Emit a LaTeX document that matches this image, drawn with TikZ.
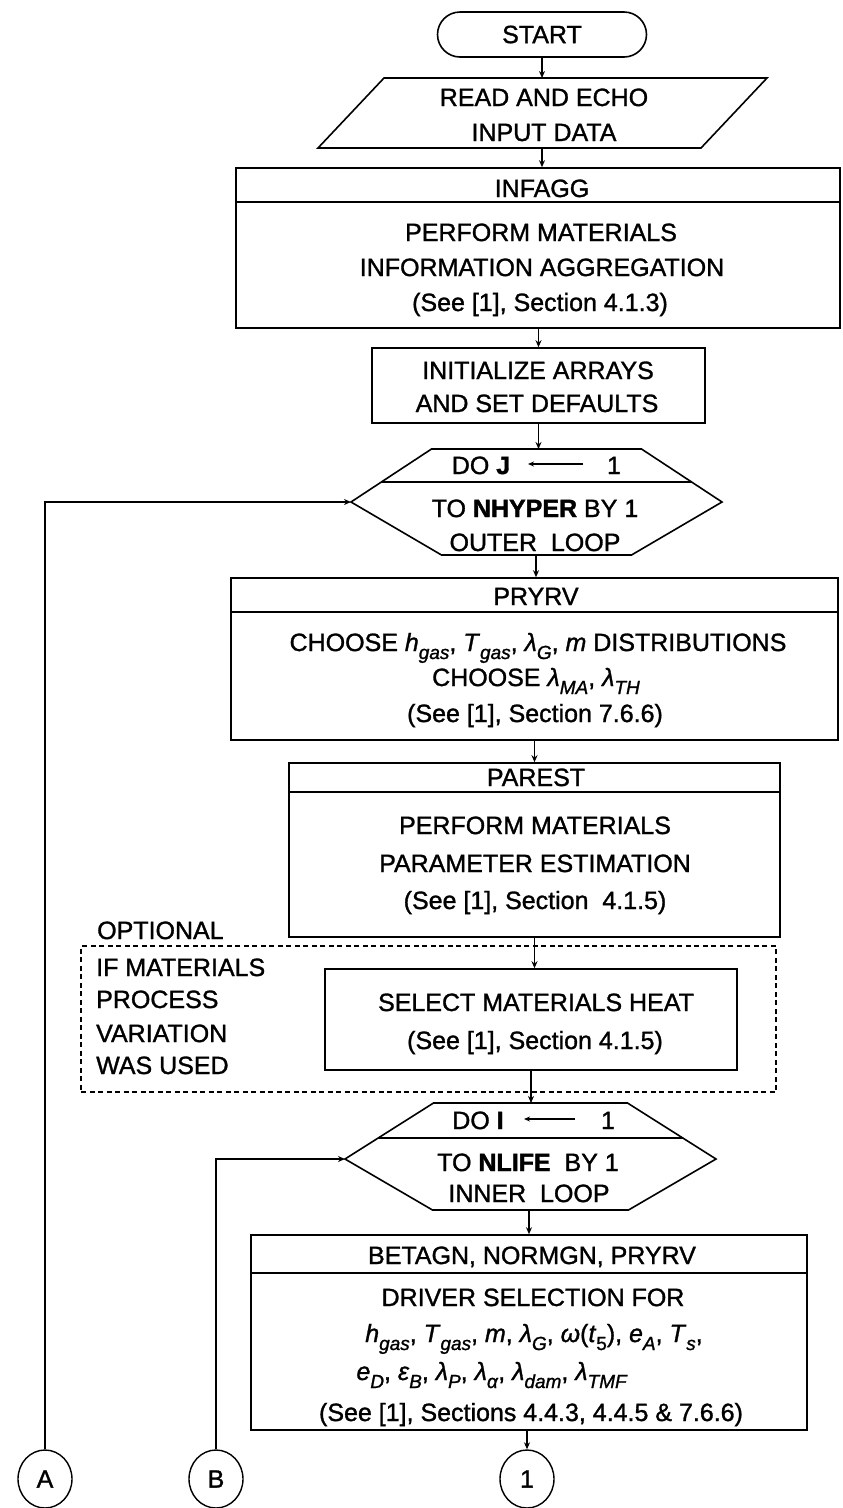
\documentclass[tikz,border=0pt]{standalone}
\usepackage{fontspec}
\setmainfont{Liberation Sans}[FakeBold=1.2,BoldFeatures={FakeBold=1.5}]
\usetikzlibrary{shapes.misc,arrows.meta}
\newcommand{\vs}[2]{\textit{#1}\raisebox{-0.32em}{\fontsize{19}{19}\selectfont\textit{#2}}}
\newcommand{\vsu}[2]{\textit{#1}\raisebox{-0.32em}{\fontsize{19}{19}\selectfont #2}}
\tikzset{
  lw/.style={line width=1.6pt},
  box/.style={draw, lw, rectangle, inner sep=0pt},
  conn/.style={line width=1.3pt, -{Stealth[length=7pt,width=6pt]}},
  t/.style={anchor=base, inner sep=0pt, font=\fontsize{25}{30}\selectfont},
  tl/.style={t, anchor=base west},
  dashbox/.style={draw, line width=1.2pt, dash pattern=on 5pt off 3.5pt, inner sep=0pt},
  circ/.style={draw, line width=1.4pt, ellipse, minimum width=54pt, minimum height=58pt, inner sep=0pt, font=\fontsize{25}{30}\selectfont},
}
\usetikzlibrary{shapes.geometric}
\begin{document}
\begin{tikzpicture}[x=1pt,y=-1pt]
\useasboundingbox (0,0) rectangle (843,1508);
\fill[white] (0,0) rectangle (843,1508);

% START
\node[draw, lw, rounded rectangle, minimum width=209pt, minimum height=45pt, inner sep=0pt, font=\fontsize{25}{30}\selectfont] (start) at (542,34.5) {START};

% READ AND ECHO
\coordinate (readT) at (542,78);
\coordinate (readB) at (542,148);
\draw[lw] (318,148) -- (384,78) -- (767,78) -- (701,148) -- cycle;
\node[t] (read1) at (544,106) {READ AND ECHO};
\node[t] (read2) at (544,141) {INPUT DATA};

% INFAGG
\node[box, minimum width=604pt, minimum height=160pt] (infagg) at (538,248) {};
\draw[lw] (infagg.west |- 0,202) -- (infagg.east |- 0,202);
\node[t] (infaggH) at (542,197) {INFAGG};
\node[t] (infagg1) at (541,241) {PERFORM MATERIALS};
\node[t] (infagg2) at (542,276) {INFORMATION AGGREGATION};
\node[t] (infagg3) at (540,311) {(See [1], Section 4.1.3)};

% INITIALIZE
\node[box, minimum width=333pt, minimum height=75pt] (init) at (538.5,385.5) {};
\node[t] (init1) at (538,379) {INITIALIZE ARRAYS};
\node[t] (init2) at (537,412) {AND SET DEFAULTS};

% DO J hexagon
\draw[lw] (351,502) -- (431.5,449) -- (641.5,449) -- (722,502) -- (631.5,555) -- (441.5,555) -- cycle;
\draw[lw] (381.4,482) -- (691.6,482);
\coordinate (dojT) at (537,449);
\coordinate (dojB) at (536,555);
\coordinate (dojL) at (351,502);
\node[t] (doj1) at (481,474) {DO\ \textbf{J}};
\coordinate (dojArS) at (583,464);
\coordinate (dojArE) at (528,464);
\draw[line width=1.2pt, -{Stealth[length=6pt,width=5pt]}] (dojArS) -- (dojArE);
\node[t] (doj2) at (614,474) {1};
\node[t] (doj3) at (535,517) {TO \textbf{NHYPER} BY 1};
\node[t] (doj4) at (535,551) {OUTER\ \ LOOP};

% PRYRV
\node[box, minimum width=607pt, minimum height=162pt] (pryrv) at (534.5,659) {};
\draw[lw] (pryrv.west |- 0,612) -- (pryrv.east |- 0,612);
\node[t] (pryH) at (536,605) {PRYRV};
\node[t] (pry1) at (538,651) {CHOOSE \vs{h}{gas}, \vs{T}{gas}, \vs{λ}{G}, \textit{m} DISTRIBUTIONS};
\node[t] (pry2) at (536,686) {CHOOSE \vs{λ}{MA}, \vs{λ}{TH}};
\node[t] (pry3) at (535,722) {(See [1], Section 7.6.6)};

% PAREST
\node[box, minimum width=491pt, minimum height=174pt] (parest) at (534.5,850) {};
\draw[lw] (parest.west |- 0,792) -- (parest.east |- 0,792);
\node[t] (parH) at (536,786) {PAREST};
\node[t] (par1) at (535,834) {PERFORM MATERIALS};
\node[t] (par2) at (535,872) {PARAMETER ESTIMATION};
\node[t] (par3) at (535,909) {(See [1], Section\ \ 4.1.5)};

% OPTIONAL
\node[tl] (opt) at (97,939) {OPTIONAL};
\node[dashbox, minimum width=695pt, minimum height=146pt] (dash) at (428.5,1019) {};
\node[tl] (opt1) at (96,976) {IF MATERIALS};
\node[tl] (opt2) at (96,1008) {PROCESS};
\node[tl] (opt3) at (96,1042) {VARIATION};
\node[tl] (opt4) at (96,1074) {WAS USED};

% SELECT
\node[box, minimum width=412pt, minimum height=101pt] (select) at (531,1019.5) {};
\node[t] (sel1) at (536,1011) {SELECT MATERIALS HEAT};
\node[t] (sel2) at (535,1049) {(See [1], Section 4.1.5)};

% DO I hexagon
\draw[lw] (345,1159) -- (433.5,1103) -- (627.5,1103) -- (716,1159) -- (628.5,1210) -- (432.5,1210) -- cycle;
\draw[lw] (378.2,1138) -- (682.8,1138);
\coordinate (doiT) at (531,1103);
\coordinate (doiB) at (529,1210);
\coordinate (doiL) at (345,1159);
\node[t] (doi1) at (478,1129) {DO\ \textbf{I}};
\coordinate (doiArS) at (575,1119);
\coordinate (doiArE) at (524,1119);
\draw[line width=1.2pt, -{Stealth[length=6pt,width=5pt]}] (doiArS) -- (doiArE);
\node[t] (doi2) at (608,1129) {1};
\node[t] (doi3) at (528,1171) {TO\ \textbf{NLIFE}\ \ BY 1};
\node[t] (doi4) at (529,1202) {INNER\ \ LOOP};

% BETAGN
\node[box, minimum width=556pt, minimum height=195pt] (betagn) at (529,1332.5) {};
\draw[lw] (betagn.west |- 0,1273) -- (betagn.east |- 0,1273);
\node[t] (betH) at (532,1264) {BETAGN, NORMGN, PRYRV};
\node[t] (bet1) at (533,1306) {DRIVER SELECTION FOR};
\node[t] (bet2) at (534,1342) {\vs{h}{gas}, \vs{T}{gas}, \textit{m}, \vs{λ}{G}, \textit{ω}(\vsu{\textit{t}}{5}), \vs{e}{A}, \vs{T}{s},};
\node[t] (bet3) at (492,1380) {\vs{e}{D}, \vs{ε}{B}, \vs{λ}{P}, \vs{λ}{α}, \vs{λ}{dam}, \vs{λ}{TMF}};
\node[t] (bet4) at (531,1421) {(See [1], Sections 4.4.3, 4.4.5 \& 7.6.6)};

% off-page connectors
\node[circ] (cA) at (45,1479) {A};
\node[circ] (cB) at (216,1479) {B};
\node[circ] (c1) at (527,1479) {1};

% connectors
\draw[conn] (start.south) -- (readT);
\draw[conn] (readB) -- (readB |- infagg.north);
\draw[conn] (init.north |- infagg.south) -- (init.north);
\draw[conn] (init.south) -- (init.south |- dojT);
\draw[conn] (dojB) -- (dojB |- pryrv.north);
\draw[conn] (pryrv.south) -- (pryrv.south |- parest.north);
\draw[conn] (parest.south) -- (parest.south |- select.north);
\draw[conn] (select.south) -- (select.south |- doiT);
\draw[conn] (doiB) -- (doiB |- betagn.north);
\draw[conn] (c1.north |- betagn.south) -- (c1.north);
\draw[conn] (cA.north) |- (dojL);
\draw[conn] (cB.north) |- (doiL);
\end{tikzpicture}
\end{document}
